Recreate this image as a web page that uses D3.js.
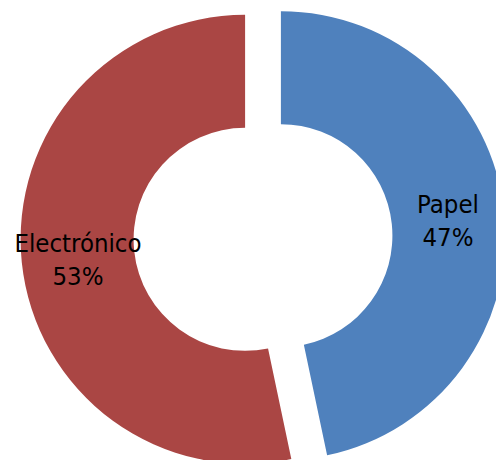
<!DOCTYPE html>
<html><head><meta charset="utf-8">
<script src="https://cdn.jsdelivr.net/npm/d3@7"></script>
<style>html,body{margin:0;padding:0;background:#fff;}</style>
</head><body>
<svg id="c" width="496" height="460"></svg>
<script>
const categories = ["Papel", "Electrónico"];
const values = [46.7, 53.3];
const colors = ["#4F81BD", "#AA4644"];

const svg = d3.select("#c");
const cx = 263, cy = 237.5, outerR = 224.5, innerR = 111.5, explode = 18;
const data = categories.map((c, i) => ({cat: c, val: values[i], color: colors[i]}));
const pie = d3.pie().value(d => d.val).sort(null).startAngle(0).endAngle(2 * Math.PI);
const arc = d3.arc().innerRadius(innerR).outerRadius(outerR);
const total = d3.sum(values);
const arcs = pie(data);

const g = svg.append("g").attr("transform", `translate(${cx},${cy})`);
const slice = g.selectAll("g.s").data(arcs).join("g").attr("class", "s")
  .attr("transform", d => {
    const a = (d.startAngle + d.endAngle) / 2;
    return `translate(${explode * Math.sin(a)},${-explode * Math.cos(a)})`;
  });
slice.append("path").attr("d", arc).attr("fill", d => d.data.color);
const lbl = slice.append("text")
  .attr("transform", d => { const c = arc.centroid(d); return `translate(${c[0]},${c[1]})`; })
  .attr("text-anchor", "middle")
  .style("font-family", "'DejaVu Sans Condensed', 'DejaVu Sans', sans-serif")
  .style("font-stretch", "condensed")
  .style("font-size", "25.5px")
  .attr("fill", "#000");
lbl.append("tspan").attr("x", 0).attr("y", -5).text(d => d.data.cat);
lbl.append("tspan").attr("x", 0).attr("y", 28).text(d => Math.round(d.data.val / total * 100) + "%");
</script>
</body></html>
